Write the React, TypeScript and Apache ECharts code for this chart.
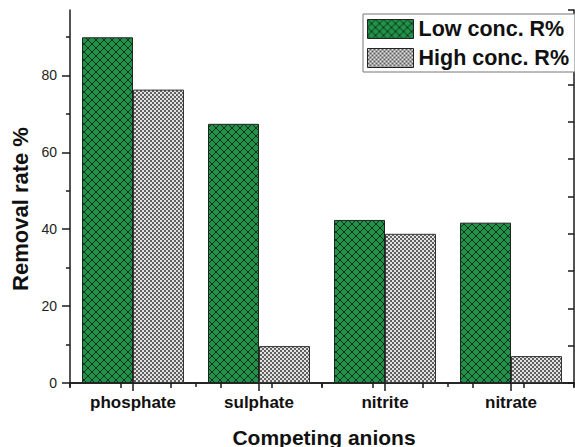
import React, { useEffect, useRef } from "react";
import * as echarts from "echarts";

const categories = ["phosphate", "sulphate", "nitrite", "nitrate"];
const lowConc = [89.9, 67.4, 42.4, 41.7];
const highConc = [76.3, 9.6, 38.8, 7.0];
const seriesNames = ["Low conc. R%", "High conc. R%"];
const yMajorTicks = [0, 20, 40, 60, 80];
const yMinorTicks = [10, 30, 50, 70, 90];

const FONT = "'Liberation Sans', Arial, Helvetica, sans-serif";

function makeGreenPattern() {
  const T = 8;
  const c = document.createElement("canvas");
  c.width = T;
  c.height = T;
  const ctx = c.getContext("2d")!;
  ctx.fillStyle = "#229149";
  ctx.fillRect(0, 0, T, T);
  ctx.strokeStyle = "#082210";
  ctx.lineWidth = 0.85;
  for (const off of [-T, 0, T]) {
    ctx.beginPath();
    ctx.moveTo(off - 1, -1);
    ctx.lineTo(off + T + 1, T + 1);
    ctx.stroke();
    ctx.beginPath();
    ctx.moveTo(off + T + 1, -1);
    ctx.lineTo(off - 1, T + 1);
    ctx.stroke();
  }
  return { image: c, repeat: "repeat", imageWidth: T, imageHeight: T };
}

function makeGreyPattern() {
  const T = 4;
  const c = document.createElement("canvas");
  c.width = T;
  c.height = T;
  const ctx = c.getContext("2d")!;
  ctx.fillStyle = "#606060";
  ctx.fillRect(0, 0, T, T);
  ctx.fillStyle = "#e2e2e2";
  ctx.fillRect(0, 0, 2, 2);
  ctx.fillRect(2, 2, 2, 2);
  return { image: c, repeat: "repeat", imageWidth: T, imageHeight: T };
}

export default function App() {
  const ref = useRef<HTMLDivElement>(null);
  useEffect(() => {
    document.body.style.margin = "0";
    const chart = echarts.init(ref.current!, null, { renderer: "svg" });
    const green = makeGreenPattern();
    const grey = makeGreyPattern();
    const axisColor = "#1a1a1a";
    chart.setOption({
      animation: false,
      backgroundColor: "#ffffff",
      textStyle: { fontFamily: FONT },
      grid: { left: 70, right: 1, top: 10, bottom: 64, containLabel: false },
      legend: {
        orient: "vertical",
        left: 363,
        top: 14,
        padding: [4, 6, 3, 4],
        itemGap: 7,
        itemWidth: 46,
        itemHeight: 19,
        backgroundColor: "#ffffff",
        borderColor: "#777777",
        borderWidth: 1,
        borderRadius: 0,
        icon: "rect",
        itemStyle: { borderColor: "#222", borderWidth: 1 },
        textStyle: {
          fontFamily: FONT,
          fontSize: 21.5,
          fontWeight: "bold",
          color: "#111",
          lineHeight: 19,
        },
        data: seriesNames,
      },
      xAxis: [
        {
          type: "category",
          position: "bottom",
          data: categories,
          axisLine: { show: true, lineStyle: { color: axisColor, width: 1.5 } },
          axisTick: { show: true, alignWithLabel: true, length: 8, inside: false, lineStyle: { color: axisColor, width: 1.5 } },
          axisLabel: { fontFamily: FONT, fontSize: 17, fontWeight: "bold", color: "#111", margin: 11 },
          splitLine: { show: false },
        },
        {
          type: "category",
          position: "bottom",
          data: categories,
          axisLine: { show: false },
          axisTick: { show: true, alignWithLabel: false, length: 4, inside: false, lineStyle: { color: axisColor, width: 1.5 } },
          axisLabel: { show: false },
          splitLine: { show: false },
        },
        {
          type: "value",
          position: "top",
          min: 0,
          max: 10,
          interval: 1,
          axisLine: { show: true, lineStyle: { color: axisColor, width: 1.5 } },
          axisTick: { show: true, inside: true, length: 5, lineStyle: { color: axisColor, width: 1.5 } },
          axisLabel: { show: false },
          splitLine: { show: false },
        },
      ],
      yAxis: [
        {
          type: "value",
          position: "left",
          min: 0,
          max: 97,
          interval: 20,
          axisLine: { show: true, lineStyle: { color: axisColor, width: 1.5 } },
          axisTick: { show: true, length: 8, customValues: yMajorTicks, lineStyle: { color: axisColor, width: 1.5 } },
          axisLabel: { customValues: yMajorTicks, fontFamily: FONT, fontSize: 14, color: "#222", margin: 13 },
          splitLine: { show: false },
        },
        {
          type: "value",
          position: "left",
          min: 0,
          max: 97,
          interval: 10,
          axisLine: { show: false },
          axisTick: { show: true, length: 4, customValues: yMinorTicks, lineStyle: { color: axisColor, width: 1.5 } },
          axisLabel: { show: false },
          splitLine: { show: false },
        },
        {
          type: "value",
          position: "right",
          min: 0,
          max: 10,
          interval: 1,
          axisLine: { show: true, lineStyle: { color: axisColor, width: 1.5 } },
          axisTick: { show: true, inside: true, length: 6, lineStyle: { color: axisColor, width: 1.5 } },
          axisLabel: { show: false },
          splitLine: { show: false },
        },
      ],
      series: [
        {
          name: seriesNames[0],
          type: "bar",
          xAxisIndex: 0,
          yAxisIndex: 0,
          data: lowConc,
          barWidth: 51,
          barGap: "0%",
          itemStyle: { color: green, borderColor: "#222", borderWidth: 1 },
        },
        {
          name: seriesNames[1],
          type: "bar",
          xAxisIndex: 0,
          yAxisIndex: 0,
          data: highConc,
          barWidth: 51,
          barGap: "0%",
          itemStyle: { color: grey, borderColor: "#333", borderWidth: 1 },
        },
      ],
      graphic: [
        {
          type: "text",
          x: 324,
          y: 437,
          style: {
            text: "Competing anions",
            fontFamily: FONT,
            fontSize: 21,
            fontWeight: "bold",
            fill: "#111",
            align: "center",
            verticalAlign: "middle",
          },
        },
        {
          type: "text",
          x: 20,
          y: 209,
          rotation: Math.PI / 2,
          style: {
            text: "Removal rate %",
            fontFamily: FONT,
            fontSize: 22,
            fontWeight: "bold",
            fill: "#111",
            align: "center",
            verticalAlign: "middle",
          },
        },
      ],
    });
    return () => chart.dispose();
  }, []);
  return (
    <div
      ref={ref}
      style={{ position: "fixed", left: 0, top: 0, width: 575, height: 447 }}
    />
  );
}
